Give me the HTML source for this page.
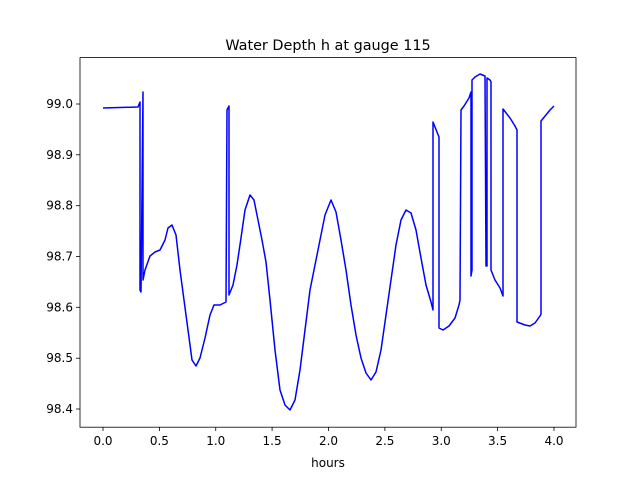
<!DOCTYPE html>
<html><head><meta charset="utf-8"><style>
html,body{margin:0;padding:0;background:#fff;}
svg text{font-family:"DejaVu Sans","Liberation Sans",sans-serif;fill:#000;}
</style></head><body>
<svg width="640" height="480" viewBox="0 0 640 480" xmlns="http://www.w3.org/2000/svg">
<rect width="640" height="480" fill="#fff"/>
<text x="328" y="50" font-size="14.4" text-anchor="middle">Water Depth h at gauge 115</text>
<g stroke="#000" stroke-width="0.8">
<line x1="103" y1="427" x2="103" y2="431"/><line x1="159.4" y1="427" x2="159.4" y2="431"/>
<line x1="215.75" y1="427" x2="215.75" y2="431"/><line x1="272.1" y1="427" x2="272.1" y2="431"/>
<line x1="328.5" y1="427" x2="328.5" y2="431"/><line x1="384.9" y1="427" x2="384.9" y2="431"/>
<line x1="441.25" y1="427" x2="441.25" y2="431"/><line x1="497.6" y1="427" x2="497.6" y2="431"/>
<line x1="554" y1="427" x2="554" y2="431"/>
<line x1="76" y1="409" x2="80" y2="409"/><line x1="76" y1="358.2" x2="80" y2="358.2"/>
<line x1="76" y1="307.3" x2="80" y2="307.3"/><line x1="76" y1="256.5" x2="80" y2="256.5"/>
<line x1="76" y1="205.7" x2="80" y2="205.7"/><line x1="76" y1="154.8" x2="80" y2="154.8"/>
<line x1="76" y1="104" x2="80" y2="104"/>
</g>
<g font-size="12" text-anchor="middle">
<text x="103" y="445">0.0</text><text x="159.4" y="445">0.5</text><text x="215.75" y="445">1.0</text>
<text x="272.1" y="445">1.5</text><text x="328.5" y="445">2.0</text><text x="384.9" y="445">2.5</text>
<text x="441.25" y="445">3.0</text><text x="497.6" y="445">3.5</text><text x="554" y="445">4.0</text>
<text x="328" y="467">hours</text>
</g>
<g font-size="12" text-anchor="end">
<text x="73" y="413">98.4</text><text x="73" y="362.2">98.5</text><text x="73" y="311.3">98.6</text>
<text x="73" y="260.5">98.7</text><text x="73" y="209.7">98.8</text><text x="73" y="158.8">98.9</text>
<text x="73" y="108">99.0</text>
</g>
<polyline fill="none" stroke="#0000ff" stroke-width="1.5" stroke-linejoin="round" points="103,108 138,107 140,102 140,290 141,292 143,92 143,280 145,270 150,256 155,252 160,250 165,240 168,228 172,225 176,235 180,270 184,300 188,330 192,360 196,366 200,358 205,338 210,315 214,305 220,305 226,302 227,110 229,106 229,295 233,285 237,265 241,238 245,210 250,195 254,200 258,220 262,240 266,262 270,300 275,350 280,390 285,405 290,410 295,400 300,370 305,330 310,290 315,265 320,240 325,215 331,200 336,212 341,240 346,270 351,305 356,335 361,358 366,373 371,380 376,372 381,350 386,315 391,280 396,245 401,220 406,210 411,213 416,230 421,258 426,285 431,302 433,310 433,122 439,137 439,328 443,330 449,326 455,318 459,305 460,300 461,110 464,106 469,98 471,92 471,276 472,270 472,80 475,77 480,74 485,76 486,266 487,266 487,78 490,80 491,82 491,270 495,280 500,288 503,296 503,109 510,118 515,126 517,130 517,322 525,325 530,326 535,323 540,316 541,314 541,121 550,110 554,106"/>
<rect x="80" y="57.6" width="496" height="369.6" fill="none" stroke="#000" stroke-width="0.8"/>
</svg>
</body></html>
